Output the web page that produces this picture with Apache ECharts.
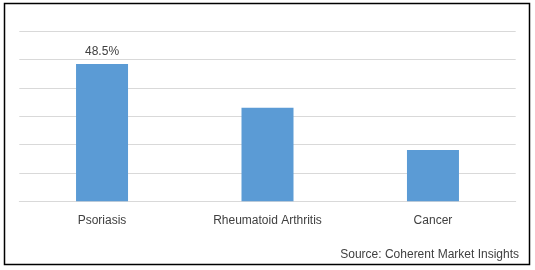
<!DOCTYPE html>
<html>
<head>
<meta charset="utf-8">
<script src="https://cdn.jsdelivr.net/npm/echarts@6/dist/echarts.min.js"></script>
<style>
html,body{margin:0;padding:0;background:#fff;}
#c{width:535px;height:270px;}
</style>
</head>
<body>
<div id="c"></div>
<script>
const categories = ["Psoriasis", "Rheumatoid Arthritis", "Cancer"];
const values = [48.5, 33, 18.1];
const labelShown = [true, false, false];
const sourceText = "Source: Coherent Market Insights";

const chart = echarts.init(document.getElementById('c'), null, {renderer: 'canvas'});
const font = "'Liberation Sans', Arial, sans-serif";
chart.setOption({
  animation: false,
  grid: {left: 19.3, right: 19.3, top: 31.3, bottom: 68.7, containLabel: false},
  xAxis: {
    type: 'category',
    data: categories,
    axisLine: {show: true, lineStyle: {color: '#d9d9d9', width: 1}},
    axisTick: {show: false},
    axisLabel: {color: '#404040', fontFamily: font, fontSize: 12, margin: 13}
  },
  yAxis: {
    type: 'value',
    min: 0, max: 60, interval: 10,
    axisLine: {show: false},
    axisTick: {show: false},
    axisLabel: {show: false},
    splitLine: {lineStyle: {color: '#d9d9d9', width: 1}}
  },
  series: [{
    type: 'bar',
    barWidth: 52,
    data: values.map((v, i) => ({
      value: v,
      label: {show: labelShown[i], position: 'top', distance: 6, formatter: v + '%',
              color: '#404040', fontFamily: font, fontSize: 12}
    })),
    itemStyle: {color: '#5b9bd5'}
  }],
  graphic: [
    {type: 'rect', shape: {x: 4.5, y: 3.5, width: 525, height: 261}, style: {fill: null, stroke: '#000', lineWidth: 1.5}, silent: true},
    {type: 'text', right: 16, top: 249, style: {text: sourceText, fill: '#404040', font: '12px ' + font}}
  ]
});
</script>
</body>
</html>
